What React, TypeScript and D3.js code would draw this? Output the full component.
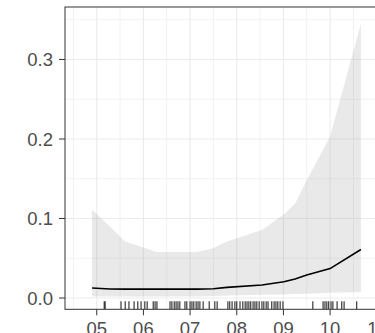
import React from 'react';
import * as d3 from 'd3';

// fitted curve (x in year units, 05 = 5)
const fitX = [4.9, 5.28, 5.61, 6.29, 7.15, 7.5, 7.79, 8.54, 9.01, 9.25, 9.5, 10.0, 10.66];
const fitY = [0.0126, 0.0113, 0.0112, 0.0112, 0.0112, 0.0116, 0.0134, 0.0164, 0.0205, 0.024, 0.029, 0.037, 0.061];
const upperY = [0.111, 0.09, 0.071, 0.058, 0.058, 0.063, 0.071, 0.0855, 0.105, 0.119, 0.148, 0.203, 0.345];
const lowerY = [0.002, 0.002, 0.002, 0.002, 0.002, 0.0025, 0.003, 0.004, 0.0045, 0.005, 0.0055, 0.0067, 0.0075];

// rug observations
const rugX = [
  5.16, 5.18, 5.52, 5.61, 5.69, 5.8, 5.88, 5.95, 6.03, 6.08, 6.21, 6.25, 6.29,
  6.57, 6.61, 6.66, 6.7, 6.74, 6.78, 6.89, 6.93, 7.0, 7.04, 7.08, 7.13, 7.17, 7.21, 7.28, 7.41, 7.53, 7.58,
  7.81, 7.85, 7.9, 7.96, 8.0, 8.07, 8.13, 8.18, 8.22, 8.26, 8.3, 8.35, 8.39, 8.43, 8.48, 8.54, 8.58, 8.63,
  8.67, 8.75, 8.8, 8.84, 8.88, 8.93, 8.99,
  9.63, 9.85, 9.89, 9.93, 9.97, 10.02, 10.06, 10.15, 10.25, 10.3, 10.57,
];

const xTicks = [5, 6, 7, 8, 9, 10, 11];
const xTickLabels = ['05', '06', '07', '08', '09', '10', '11'];
const yTicks = [0, 0.1, 0.2, 0.3];
const yTickLabels = ['0.0', '0.1', '0.2', '0.3'];

const W = 375;
const H = 333;
const panel = { left: 65, right: 387.5, top: 7, bottom: 309.3 };

export default function App() {
  const x = d3.scaleLinear().domain([4.32, 11.23]).range([panel.left, panel.right]);
  const y = d3.scaleLinear().domain([-0.0142, 0.366]).range([panel.bottom, panel.top]);

  const xMinor = d3.range(4.5, 11.5, 1);
  const yMinor = [0.05, 0.15, 0.25, 0.35];

  const pts = fitX.map((v, i) => ({ x: v, y: fitY[i], lo: lowerY[i], hi: upperY[i] }));

  const area = d3
    .area<any>()
    .x((d) => x(d.x))
    .y0((d) => y(d.lo))
    .y1((d) => y(d.hi));
  const line = d3
    .line<any>()
    .x((d) => x(d.x))
    .y((d) => y(d.y));

  const font = 'Liberation Sans, Arial, sans-serif';

  return (
    <svg
      width={W}
      height={H}
      style={{ position: 'absolute', left: 0, top: 0, background: '#fff' }}
    >
      <defs>
        <clipPath id="panel">
          <rect x={panel.left} y={panel.top} width={panel.right - panel.left} height={panel.bottom - panel.top} />
        </clipPath>
      </defs>
      <g clipPath="url(#panel)">
        {/* minor grid */}
        {xMinor.map((v) => (
          <line key={'xm' + v} x1={x(v)} x2={x(v)} y1={panel.top} y2={panel.bottom} stroke="#f2f2f2" strokeWidth={1} />
        ))}
        {yMinor.map((v) => (
          <line key={'ym' + v} x1={panel.left} x2={panel.right} y1={y(v)} y2={y(v)} stroke="#f2f2f2" strokeWidth={1} />
        ))}
        {/* major grid */}
        {xTicks.map((v) => (
          <line key={'xg' + v} x1={x(v)} x2={x(v)} y1={panel.top} y2={panel.bottom} stroke="#ebebeb" strokeWidth={1.1} />
        ))}
        {yTicks.map((v) => (
          <line key={'yg' + v} x1={panel.left} x2={panel.right} y1={y(v)} y2={y(v)} stroke="#ebebeb" strokeWidth={1.1} />
        ))}
        <path d={area(pts) || ''} fill="#999999" fillOpacity={0.22} />
        <path d={line(pts) || ''} fill="none" stroke="#000" strokeWidth={1.6} />
        {rugX.map((v, i) => (
          <line
            key={'r' + i}
            x1={x(v)}
            x2={x(v)}
            y1={panel.bottom}
            y2={panel.bottom - 8}
            stroke="#000"
            strokeOpacity={0.85}
            strokeWidth={1.1}
          />
        ))}
      </g>
      {/* panel border */}
      <rect
        x={panel.left}
        y={panel.top}
        width={panel.right - panel.left}
        height={panel.bottom - panel.top}
        fill="none"
        stroke="#333"
        strokeWidth={1}
      />
      {/* y axis */}
      {yTicks.map((v, i) => (
        <g key={'yt' + v}>
          <line x1={panel.left - 6} x2={panel.left} y1={y(v)} y2={y(v)} stroke="#333" strokeWidth={1} />
          <text
            x={panel.left - 12}
            y={y(v)}
            dy="0.36em"
            textAnchor="end"
            fontFamily={font}
            fontSize={18.5}
            fill="#4d4d4d"
          >
            {yTickLabels[i]}
          </text>
        </g>
      ))}
      {/* x axis */}
      {xTicks.map((v, i) => (
        <g key={'xt' + v}>
          <line x1={x(v)} x2={x(v)} y1={panel.bottom} y2={panel.bottom + 6} stroke="#333" strokeWidth={1} />
          <text
            x={x(v)}
            y={335}
            textAnchor="middle"
            fontFamily={font}
            fontSize={18.5}
            fill="#4d4d4d"
          >
            {xTickLabels[i]}
          </text>
        </g>
      ))}
    </svg>
  );
}
